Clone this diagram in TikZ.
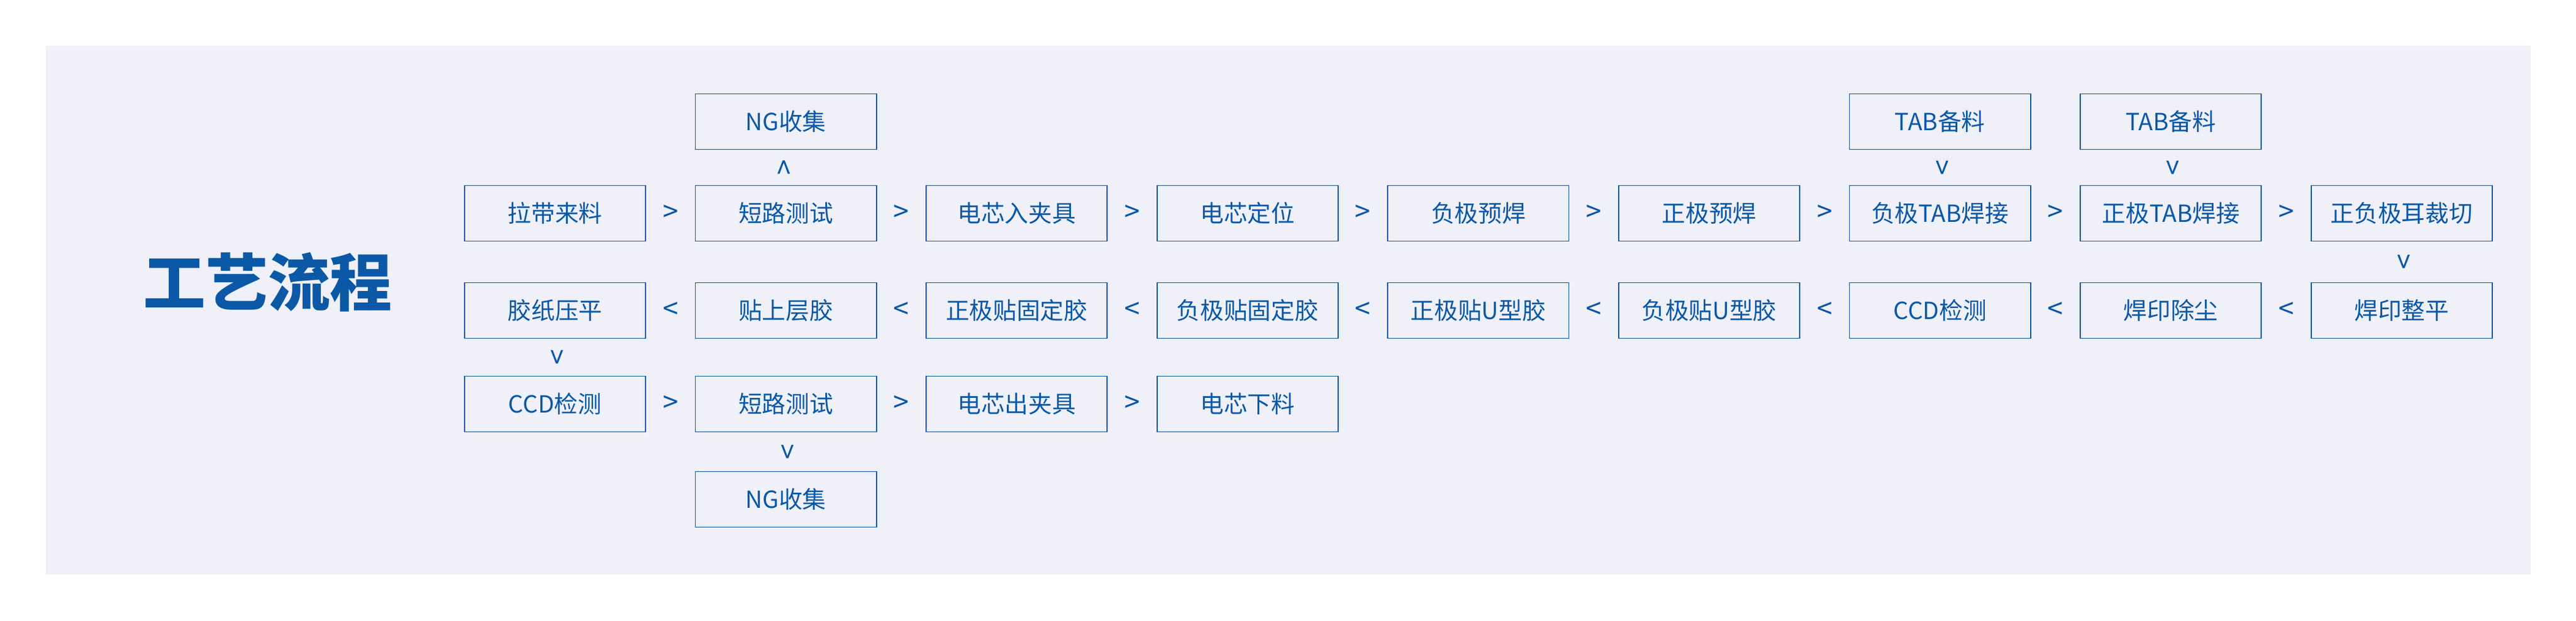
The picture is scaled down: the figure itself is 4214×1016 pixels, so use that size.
\documentclass[tikz,border=0pt]{standalone}
\usepackage{fontspec}
\usetikzlibrary{calc}
\setmainfont{Noto Sans CJK SC}
\definecolor{bl}{HTML}{0A58A6}
\definecolor{bg}{HTML}{EFF0F8}
\begin{document}
\begin{tikzpicture}[x=0.01cm,y=-0.01cm,
 box/.style={draw=bl,line width=0.5pt,minimum width=2.96cm,minimum height=0.91cm,inner sep=0pt,text=bl,font=\fontsize{11}{13}\selectfont},
 sep/.style={text=bl,inner sep=0pt,font=\fontsize{13}{13}\selectfont}]
\useasboundingbox (0,0) rectangle (4214,1016);
\fill[bg] (75,75) rectangle (4140,940);
\node[text=bl,font=\fontsize{29}{30}\selectfont\bfseries] (title) at (438,462) {工艺流程};
\def\cx#1{\fpeval{908+377.6*#1}}
% row A
\node[box] (a1) at (\cx{1},199) {NG收集};
\node[box] (a6) at (\cx{6},199) {TAB备料};
\node[box] (a7) at (\cx{7},199) {TAB备料};
% row B
\foreach \i/\t in {0/拉带来料,1/短路测试,2/电芯入夹具,3/电芯定位,4/负极预焊,5/正极预焊,6/负极TAB焊接,7/正极TAB焊接,8/正负极耳裁切}
  \node[box] (b\i) at (\cx{\i},349) {\t};
\foreach \i/\t in {0/胶纸压平,1/贴上层胶,2/正极贴固定胶,3/负极贴固定胶,4/正极贴U型胶,5/负极贴U型胶,6/CCD检测,7/焊印除尘,8/焊印整平}
  \node[box] (c\i) at (\cx{\i},508) {\t};
\foreach \i/\t in {0/CCD检测,1/短路测试,2/电芯出夹具,3/电芯下料}
  \node[box] (d\i) at (\cx{\i},661) {\t};
\node[box] (e1) at (\cx{1},817) {NG收集};
% separators
\foreach \i [evaluate=\i as \j using int(\i+1)] in {0,...,7}{
  \node[sep] at ($(b\i.east)!0.5!(b\j.west)$) {>};
  \node[sep] at ($(c\i.east)!0.5!(c\j.west)$) {<};}
\foreach \i [evaluate=\i as \j using int(\i+1)] in {0,1,2}
  \node[sep] at ($(d\i.east)!0.5!(d\j.west)$) {>};
\node[sep,rotate=90] at ($(a1.south)!0.5!(b1.north)$) {>};
\node[sep,rotate=-90] at ($(a6.south)!0.5!(b6.north)$) {>};
\node[sep,rotate=-90] at ($(a7.south)!0.5!(b7.north)$) {>};
\node[sep,rotate=-90] at ($(b8.south)!0.5!(c8.north)$) {>};
\node[sep,rotate=-90] at ($(c0.south)!0.5!(d0.north)$) {>};
\node[sep,rotate=-90] at ($(d1.south)!0.5!(e1.north)$) {>};
\end{tikzpicture}
\end{document}
